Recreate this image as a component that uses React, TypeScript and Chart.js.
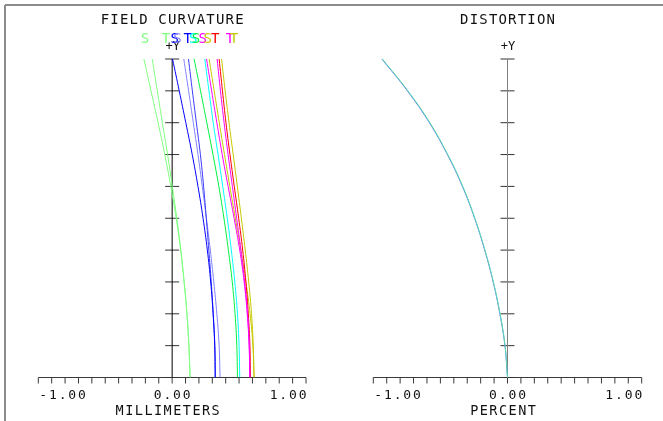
import React, { useEffect, useRef } from "react";
import { Chart, registerables } from "chart.js";
Chart.register(...registerables);

// ---------- data ----------
const FIELD = [0, 0.1, 0.2, 0.3, 0.4, 0.5, 0.6, 0.7, 0.8, 0.9, 1.0];

// field curvature (mm), indexed by FIELD
const FC_LG_S = [0.134, 0.125, 0.110, 0.089, 0.063, 0.030, -0.010, -0.055, -0.105, -0.158, -0.211];
const FC_LG_T = [0.134, 0.125, 0.111, 0.090, 0.065, 0.035, 0.001, -0.034, -0.073, -0.111, -0.149];
const FC_BLUE_S = [0.322, 0.318, 0.306, 0.288, 0.263, 0.231, 0.193, 0.150, 0.102, 0.053, 0.003];
const FC_BLUE_T = [0.322, 0.319, 0.307, 0.292, 0.274, 0.255, 0.235, 0.211, 0.181, 0.151, 0.122];
const FC_LBLUE = [0.358, 0.351, 0.334, 0.311, 0.285, 0.256, 0.225, 0.193, 0.158, 0.123, 0.087];
const FC_GREEN = [0.488, 0.483, 0.470, 0.449, 0.420, 0.387, 0.349, 0.305, 0.259, 0.212, 0.164];
const FC_CYAN = [0.505, 0.500, 0.488, 0.468, 0.442, 0.412, 0.378, 0.343, 0.307, 0.275, 0.244];
const FC_MAG_S = [0.580, 0.575, 0.561, 0.538, 0.505, 0.463, 0.418, 0.374, 0.334, 0.295, 0.257];
const FC_OLIVE_S = [0.612, 0.603, 0.582, 0.551, 0.513, 0.472, 0.431, 0.391, 0.352, 0.314, 0.276];
const FC_RED_T = [0.585, 0.581, 0.569, 0.551, 0.527, 0.497, 0.464, 0.432, 0.402, 0.376, 0.351];
const FC_MAG_T = [0.580, 0.576, 0.563, 0.542, 0.514, 0.482, 0.450, 0.418, 0.388, 0.361, 0.336];
const FC_OLIVE_T = [0.612, 0.606, 0.593, 0.572, 0.546, 0.517, 0.487, 0.456, 0.425, 0.396, 0.369];

// distortion (percent), indexed by FIELD
const DIST_A = [0, -0.019, -0.057, -0.107, -0.170, -0.245, -0.336, -0.448, -0.582, -0.746, -0.936];
const DIST_B = [0, -0.018, -0.055, -0.105, -0.168, -0.243, -0.333, -0.445, -0.578, -0.742, -0.932];

// S / T labels above the field curvature plot (x in mm)
const LEGEND_TEXT = ["S", "T", "S", "S", "T", "S", "S", "S", "S", "T", "T", "T"];
const LEGEND_X = [-0.204, -0.047, 0.020, 0.039, 0.117, 0.158, 0.177, 0.229, 0.266, 0.322, 0.431, 0.461];

const X_TICKS = [-1, -0.9, -0.8, -0.7, -0.6, -0.5, -0.4, -0.3, -0.2, -0.1, 0, 0.1, 0.2, 0.3, 0.4, 0.5, 0.6, 0.7, 0.8, 0.9, 1];
const Y_TICKS = [0, 0.1, 0.2, 0.3, 0.4, 0.5, 0.6, 0.7, 0.8, 0.9, 1];
const X_LABEL_VALUES = [-1, 0, 1];
const X_LABEL_TEXT = ["-1.00", "0.00", "1.00"];

// ---------- styles ----------
const C_LG = "#80ff80";
const C_BLUE = "#0000ff";
const C_BLUE2 = "#3a3aff";
const C_LBLUE = "#8080ff";
const C_GREEN = "#00f040";
const C_CYAN = "#00ffff";
const C_MAG = "#ff00ff";
const C_RED = "#ff0000";
const C_OLIVE = "#c8c800";
const LEGEND_COLORS = [C_LG, C_LG, C_BLUE, C_LBLUE, C_BLUE, C_CYAN, C_GREEN, C_MAG, C_OLIVE, C_RED, C_MAG, C_OLIVE];

const MONO = '"DejaVu Sans Mono", monospace';
const W = 663;
const H = 421;

function spaced(ctx: CanvasRenderingContext2D, text: string, x: number, y: number, align: string, size: number, adv: number) {
  ctx.font = `${size}px ${MONO}`;
  ctx.textAlign = "center";
  ctx.textBaseline = "alphabetic";
  const total = text.length * adv;
  const start = align === "center" ? x - total / 2 : align === "right" ? x - total : x;
  for (let i = 0; i < text.length; i++) ctx.fillText(text[i], start + adv * (i + 0.5), y);
}

type PanelCfg = {
  title: string;
  axisTitle: string;
  yAxisColor: string;
  frame: boolean;
  legend: boolean;
};

function makePlugin(cfg: PanelCfg) {
  return {
    id: "panel",
    beforeDatasetsDraw(chart: any) {
      const ctx: CanvasRenderingContext2D = chart.ctx;
      const xs = chart.scales.x;
      const ys = chart.scales.y;
      const x0 = xs.getPixelForValue(0);
      const yb = ys.getPixelForValue(0);
      const yt = ys.getPixelForValue(1);
      ctx.save();
      if (cfg.frame) {
        ctx.strokeStyle = "#8c8c8c";
        ctx.lineWidth = 2;
        ctx.beginPath();
        ctx.moveTo(5, 5);
        ctx.lineTo(W, 5);
        ctx.moveTo(5, 5);
        ctx.lineTo(5, H);
        ctx.stroke();
      }
      // x axis
      ctx.strokeStyle = "#3a3a3a";
      ctx.lineWidth = 1;
      ctx.beginPath();
      ctx.moveTo(xs.getPixelForValue(-1), yb);
      ctx.lineTo(xs.getPixelForValue(1), yb);
      for (const t of X_TICKS) {
        const px = xs.getPixelForValue(t);
        ctx.moveTo(px, yb);
        ctx.lineTo(px, yb + 6);
      }
      ctx.stroke();
      // y ticks
      ctx.strokeStyle = "#333";
      ctx.beginPath();
      for (const h of Y_TICKS) {
        const py = ys.getPixelForValue(h);
        ctx.moveTo(x0 - 7, py);
        ctx.lineTo(x0 + 7, py);
      }
      ctx.stroke();
      // y axis
      ctx.strokeStyle = cfg.yAxisColor;
      ctx.beginPath();
      ctx.moveTo(x0, yb);
      ctx.lineTo(x0, yt);
      ctx.stroke();
      ctx.restore();
    },
    afterDatasetsDraw(chart: any) {
      const ctx: CanvasRenderingContext2D = chart.ctx;
      const xs = chart.scales.x;
      const ys = chart.scales.y;
      const x0 = xs.getPixelForValue(0);
      const yb = ys.getPixelForValue(0);
      ctx.save();
      ctx.fillStyle = "#111";
      spaced(ctx, cfg.title, x0, 24, "center", 14, 9.6);
      spaced(ctx, cfg.axisTitle, x0 - 4.5, 415, "center", 13.5, 9.6);
      X_LABEL_VALUES.forEach((v, i) => {
        const px = xs.getPixelForValue(v);
        const align = v < 0 ? "left" : v > 0 ? "right" : "center";
        spaced(ctx, X_LABEL_TEXT[i], align === "right" ? px + 1.5 : px, yb + 21, align, 13, 9.7);
      });
      ctx.font = `12px ${MONO}`;
      ctx.textAlign = "center";
      ctx.textBaseline = "alphabetic";
      ctx.fillText("+Y", x0 + 0.5, 50);
      if (cfg.legend) {
        ctx.font = `14px ${MONO}`;
        LEGEND_TEXT.forEach((t, i) => {
          ctx.fillStyle = LEGEND_COLORS[i];
          ctx.fillText(t, xs.getPixelForValue(LEGEND_X[i]), 42.7);
        });
      }
      ctx.restore();
    },
  };
}

function ds(values: number[], color: string) {
  return {
    data: FIELD.map((h, i) => ({ x: values[i], y: h })),
    borderColor: color,
    backgroundColor: color,
    borderWidth: 1,
    pointRadius: 0,
    showLine: true,
    fill: false,
    tension: 0.4,
  };
}

function baseOptions(padding: any) {
  return {
    animation: false as const,
    responsive: false,
    devicePixelRatio: 1,
    layout: { padding },
    plugins: { legend: { display: false }, tooltip: { enabled: false } },
    events: [] as any[],
    scales: {
      x: { type: "linear" as const, min: -1, max: 1, display: false },
      y: { type: "linear" as const, min: 0, max: 1, display: false },
    },
  };
}

export default function App() {
  const leftRef = useRef<HTMLCanvasElement>(null);
  const rightRef = useRef<HTMLCanvasElement>(null);

  useEffect(() => {
    // listed bottom-to-top; Chart.js paints index 0 last, so reverse
    const leftSets = [
      ds(FC_LG_S, C_LG),
      ds(FC_LG_T, C_LG),
      ds(FC_LBLUE, C_LBLUE),
      ds(FC_BLUE_T, C_BLUE2),
      ds(FC_BLUE_S, C_BLUE),
      ds(FC_GREEN, C_GREEN),
      ds(FC_CYAN, C_CYAN),
      ds(FC_OLIVE_S, C_OLIVE),
      ds(FC_RED_T, C_RED),
      ds(FC_MAG_S, C_MAG),
      ds(FC_MAG_T, C_MAG),
      ds(FC_OLIVE_T, C_OLIVE),
    ].reverse();
    const rightSets = [ds(DIST_A, "#5a6cff"), ds(DIST_B, "#5fe0a8")].reverse();

    const left = new Chart(leftRef.current!, {
      type: "scatter",
      data: { datasets: leftSets },
      options: baseOptions({ left: 38.3, right: W - 306, top: 59, bottom: H - 377.5 }) as any,
      plugins: [makePlugin({ title: "FIELD CURVATURE", axisTitle: "MILLIMETERS", yAxisColor: "#000", frame: true, legend: true })],
    });
    const right = new Chart(rightRef.current!, {
      type: "scatter",
      data: { datasets: rightSets },
      options: baseOptions({ left: 373.3, right: W - 641.7, top: 59, bottom: H - 377.5 }) as any,
      plugins: [makePlugin({ title: "DISTORTION", axisTitle: "PERCENT", yAxisColor: "#808080", frame: false, legend: false })],
    });
    return () => {
      left.destroy();
      right.destroy();
    };
  }, []);

  return (
    <div style={{ position: "fixed", left: 0, top: 0, width: W, height: H, background: "#fff" }}>
      <canvas ref={leftRef} width={W} height={H} style={{ position: "absolute", left: 0, top: 0 }} />
      <canvas ref={rightRef} width={W} height={H} style={{ position: "absolute", left: 0, top: 0 }} />
    </div>
  );
}
